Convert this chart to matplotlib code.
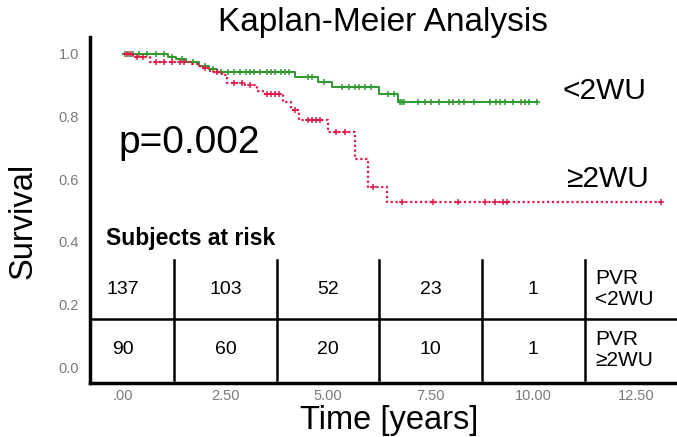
import numpy as np
import matplotlib
matplotlib.use("Agg")
import matplotlib.pyplot as plt

plt.rcParams['font.family'] = ['Liberation Sans', 'DejaVu Sans']

# step curves (time in years, survival)
low_t = [0, 1.1, 1.3, 1.55, 1.85, 2.1, 2.3, 4.2, 4.75, 5.1, 6.25, 6.7]
low_s = [1.0, 0.99, 0.985, 0.975, 0.962, 0.952, 0.943, 0.927, 0.911, 0.895, 0.872, 0.845]
low_end = 10.1
low_cens = [0.05, 0.15, 0.25, 0.4, 0.6, 0.8, 1.0, 1.2, 1.45, 1.7, 2.0, 2.2, 2.4, 2.55,
            2.7, 2.85, 3.0, 3.1, 3.2, 3.35, 3.5, 3.6, 3.7, 3.85, 3.95, 4.05, 4.5, 4.6,
            4.9, 5.35, 5.5, 5.65, 5.75, 5.9, 6.05, 6.45, 6.6, 6.75, 6.8, 6.85, 7.2,
            7.35, 7.5, 7.7, 7.95, 8.05, 8.2, 8.3, 8.55, 8.95, 9.1, 9.2, 9.3, 9.5,
            9.7, 9.8, 9.9, 10.1]

high_t = [0, 0.25, 0.66, 1.63, 1.88, 2.12, 2.41, 2.54, 2.98, 3.27, 3.41, 3.9, 4.1,
          4.3, 5.0, 5.65, 5.98, 6.44]
high_s = [1.0, 0.99, 0.975, 0.968, 0.955, 0.943, 0.933, 0.907, 0.9, 0.88, 0.872, 0.845,
          0.82, 0.79, 0.75, 0.665, 0.575, 0.527]
high_end = 13.1
high_cens = [0.1, 0.2, 0.35, 0.5, 0.8, 1.0, 1.2, 1.4, 1.5, 2.0, 2.3, 2.7, 2.9, 3.1,
             3.5, 3.6, 3.7, 3.8, 4.2, 4.5, 4.6, 4.7, 4.8, 5.2, 5.4, 6.1, 6.8, 7.56,
             8.17, 8.83, 9.07, 9.27, 9.37, 13.1]

# numbers at risk
risk_times = [0, 2.5, 5.0, 7.5, 10.0]
risk_low = [137, 103, 52, 23, 1]
risk_high = [90, 60, 20, 10, 1]
cell_edges = [1.25, 3.75, 6.25, 8.75, 11.25]

x_ticks = [0, 2.5, 5.0, 7.5, 10.0, 12.5]
x_labels = ['.00', '2.50', '5.00', '7.50', '10.00', '12.50']
y_ticks = [0.0, 0.2, 0.4, 0.6, 0.8, 1.0]

green = '#2e9a2e'
red = '#e0194a'


def surv_at(times, surv, pts):
    idx = np.searchsorted(times, pts, side='right') - 1
    return np.array(surv)[idx]


fig = plt.figure(figsize=(6.77, 4.37), dpi=100)
ax = fig.add_axes([90 / 677, 1 - 383 / 437, 1 - 90 / 677, (383 - 37) / 437])
ax.set_xlim(-0.8, 13.5)
ax.set_ylim(-0.051, 1.054)

# survival curves
ax.step(low_t + [low_end], low_s + [low_s[-1]], where='post', color=green, lw=1.4)
ax.plot(low_cens, surv_at(low_t, low_s, low_cens), '+', color=green, ms=5, mew=1.1)
ax.step(high_t + [high_end], high_s + [high_s[-1]], where='post', color=red, lw=1.6,
        linestyle=(0, (1, 1.2)))
ax.plot(high_cens, surv_at(high_t, high_s, high_cens), '+', color=red, ms=5, mew=1.1)

ax.text(10.7, 0.88, '<2WU', fontsize=21.5, va='center')
ax.text(10.8, 0.60, '≥2WU', fontsize=21.5, va='center')
ax.text(-0.1, 0.715, 'p=0.002', fontsize=28, va='center')

# at-risk table
ax.text(-0.42, 0.41, 'Subjects at risk', fontsize=16.5, fontweight='bold', va='center')
ax.axhline(0.153, color='black', lw=1.8)
for xe in cell_edges:
    ax.plot([xe, xe], [-0.04, 0.342], color='black', lw=1.8)
for t, a, b in zip(risk_times, risk_low, risk_high):
    ax.text(t, 0.248, str(a), fontsize=14, ha='center', va='center')
    ax.text(t, 0.056, str(b), fontsize=14, ha='center', va='center')
ax.text(11.5, 0.25, 'PVR\n<2WU', fontsize=15, va='center', linespacing=1.1)
ax.text(11.5, 0.055, 'PVR\n≥2WU', fontsize=15, va='center', linespacing=1.1)

ax.set_xticks(x_ticks)
ax.set_xticklabels(x_labels)
ax.set_yticks(y_ticks)
ax.set_yticklabels(['%.1f' % v for v in y_ticks])
ax.tick_params(length=0, labelsize=10.5, labelcolor='#7a7a7a')
ax.tick_params(axis='x', pad=4)
ax.tick_params(axis='y', pad=8)
for s in ['top', 'right']:
    ax.spines[s].set_visible(False)
ax.spines['left'].set_linewidth(2.5)
ax.spines['bottom'].set_linewidth(2.5)

fig.text(383 / 677, 1 - 22 / 437, 'Kaplan-Meier Analysis', fontsize=24,
         ha='center', va='center')
fig.text(389 / 677, 1 - 421 / 437, 'Time [years]', fontsize=23.5, ha='center', va='center')
fig.text(23 / 677, 1 - 221 / 437, 'Survival', fontsize=23.5, rotation=90,
         ha='center', va='center')

fig.savefig('out.png', dpi=100)
